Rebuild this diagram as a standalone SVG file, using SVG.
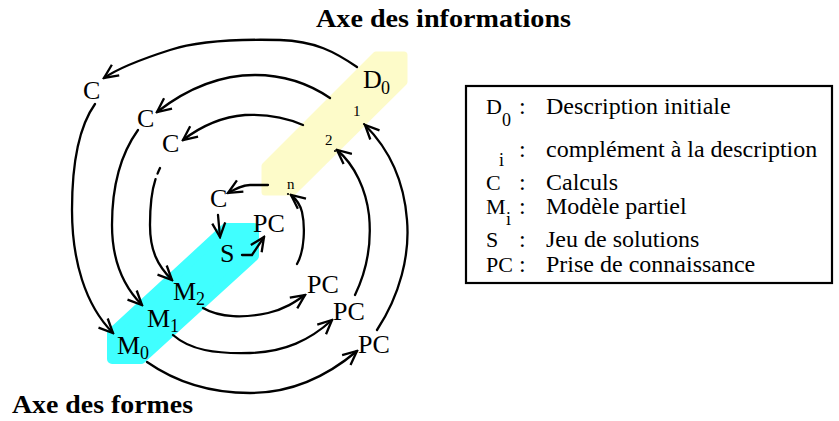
<svg xmlns="http://www.w3.org/2000/svg" width="839" height="421" viewBox="0 0 839 421">
  <style>
    .lbl { font-family: "Liberation Serif", "Times New Roman", serif; fill: #000; }
    .big { font-size: 26px; }
    .sub { font-size: 18px; }
    .idx { font-size: 15px; }
    .leg { font-size: 24px; }
    .sym { font-size: 22px; }
    .title { font-family: "Liberation Serif", "Times New Roman", serif; font-weight: bold; font-size: 26px; fill: #000; }
    .arc { fill: none; stroke: #000; stroke-width: 2.3; stroke-linecap: round; marker-end: url(#arr); }
  </style>
  <defs>
    <marker id="arr" viewBox="-16 -8 18 16" refX="0" refY="0" markerWidth="18" markerHeight="16" markerUnits="userSpaceOnUse" orient="auto">
      <path d="M-14,-6.5 L0,0 L-14,6.5" fill="none" stroke="#000" stroke-width="2.3" stroke-linejoin="miter"/>
    </marker>
  </defs>
  <rect width="839" height="421" fill="#fff"/>

  <!-- axis titles -->
  <text class="title" x="316" y="27" textLength="255" lengthAdjust="spacingAndGlyphs">Axe des informations</text>
  <text class="title" x="12" y="413" textLength="181" lengthAdjust="spacingAndGlyphs">Axe des formes</text>

  <!-- information axis band -->
  <g id="axe-informations">
    <polygon points="265,192 265,166 376,55 404,55 404,82 293,192" fill="#fdfbc9" stroke="#fdfbc9" stroke-width="7" stroke-linejoin="round"/>
  </g>
  <!-- form axis band -->
  <g id="axe-formes">
    <polygon points="112,333 226,228 254,228 254,256 141,359 112,359" fill="#40ffff" stroke="#40ffff" stroke-width="10" stroke-linejoin="round"/>
  </g>

  <!-- connectors -->
  <g id="connectors">
    <!-- top: description towards calculations -->
    <path class="arc" d="M357,67 C335,52 315,41 280,40 C240,39 200,40 170,50 C145,58 120,67 104,78"/>
    <path class="arc" d="M330,98 C305,81 280,75 255,75 C225,75 193,84 157,112"/>
    <path class="arc" d="M303,125 C285,117 265,114 245,115 C220,117 200,127 183,140"/>
    <path class="arc" d="M268,185 L250,185 C242,185 235,189 228,193"/>
    <!-- left: calculations towards models -->
    <path class="arc" d="M95,104 C80,125 72,160 72,210 C72,260 85,305 113,333"/>
    <path class="arc" d="M138,130 C120,155 112,185 112,225 C112,260 122,285 142,305"/>
    <path class="arc" d="M160,168 C152,185 150,200 150,225 C150,250 157,265 172,280" stroke-dasharray="6 6 1000"/>
    <path class="arc" d="M218,215 L220,237"/>
    <!-- bottom: models towards knowledge acquisition -->
    <path class="arc" d="M203,308 C220,318 245,318 268,313 C285,309 295,302 305,295"/>
    <path class="arc" d="M173,335 C190,350 215,354 250,353 C285,352 310,340 332,320"/>
    <path class="arc" d="M147,362 C180,385 215,393 250,393 C290,393 325,378 357,351"/>
    <path class="arc" d="M242,255 L252,255 L264,237"/>
    <!-- right: knowledge acquisition towards description complements -->
    <path class="arc" d="M377,330 C400,295 410,255 407,220 C404,180 390,150 365,125"/>
    <path class="arc" d="M355,295 C367,270 372,245 369,215 C366,190 355,165 337,150"/>
    <path class="arc" d="M297,264 C305,250 305,225 302,212 C300,204 296,199 291,195"/>
  </g>

  <!-- description nodes -->
  <g id="D0"><text class="lbl big" x="363" y="88">D</text><text class="lbl sub" x="381" y="94">0</text></g>
  <g id="d1"><text class="lbl idx" x="353" y="116">1</text><circle cx="364" cy="124" r="1.1"/></g>
  <g id="d2"><text class="lbl idx" x="325" y="145">2</text><circle cx="335" cy="151" r="1.1"/></g>
  <g id="dn"><text class="lbl idx" x="287" y="189">n</text><circle cx="288" cy="194" r="1.1"/></g>

  <!-- calculation nodes -->
  <g id="C1"><text class="lbl big" x="83" y="99">C</text></g>
  <g id="C2"><text class="lbl big" x="137" y="127">C</text></g>
  <g id="C3"><text class="lbl big" x="162" y="152">C</text></g>
  <g id="C4"><text class="lbl big" x="210" y="207">C</text></g>

  <!-- model nodes -->
  <g id="M0"><text class="lbl big" x="117" y="354">M</text><text class="lbl sub" x="140" y="359">0</text></g>
  <g id="M1"><text class="lbl big" x="147" y="327">M</text><text class="lbl sub" x="170" y="332">1</text></g>
  <g id="M2"><text class="lbl big" x="173" y="300">M</text><text class="lbl sub" x="196" y="305">2</text></g>
  <g id="S"><text class="lbl big" x="220" y="262">S</text></g>

  <!-- knowledge acquisition nodes -->
  <g id="PC0"><text class="lbl big" x="253" y="232">PC</text></g>
  <g id="PC1"><text class="lbl big" x="307" y="293">PC</text></g>
  <g id="PC2"><text class="lbl big" x="333" y="320">PC</text></g>
  <g id="PC3"><text class="lbl big" x="358" y="353">PC</text></g>

  <!-- legend -->
  <g id="legend">
    <rect x="466" y="86" width="366" height="197" fill="none" stroke="#000" stroke-width="2.2"/>
    <text class="lbl sym" x="486" y="114">D</text><text class="lbl" font-size="18" x="502" y="126">0</text>
    <text class="lbl leg" x="519" y="114">:</text><text class="lbl leg" x="546" y="114">Description initiale</text>
    <text class="lbl" font-size="18" x="499" y="166">i</text>
    <text class="lbl leg" x="519" y="157">:</text><text class="lbl leg" x="546" y="157">complément à la description</text>
    <text class="lbl sym" x="486" y="190">C</text>
    <text class="lbl leg" x="519" y="190">:</text><text class="lbl leg" x="546" y="190">Calculs</text>
    <text class="lbl sym" x="486" y="214">M</text><text class="lbl" font-size="18" x="506" y="225">i</text>
    <text class="lbl leg" x="519" y="214">:</text><text class="lbl leg" x="546" y="214">Modèle partiel</text>
    <text class="lbl sym" x="486" y="247">S</text>
    <text class="lbl leg" x="519" y="247">:</text><text class="lbl leg" x="546" y="247">Jeu de solutions</text>
    <text class="lbl sym" x="486" y="272">PC</text>
    <text class="lbl leg" x="519" y="272">:</text><text class="lbl leg" x="546" y="272">Prise de connaissance</text>
  </g>
</svg>
